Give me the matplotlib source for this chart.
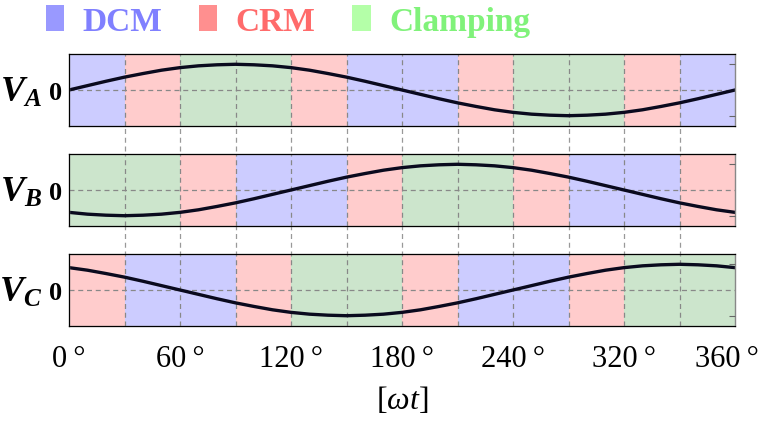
import matplotlib
matplotlib.use("Agg")
import matplotlib.pyplot as plt
import matplotlib.transforms as mtransforms
from matplotlib.patches import Patch

plt.rcParams['font.family'] = ['Liberation Serif', 'DejaVu Serif']
plt.rcParams['mathtext.fontset'] = 'custom'
plt.rcParams['mathtext.rm'] = 'Liberation Serif'
plt.rcParams['mathtext.it'] = 'Liberation Serif:italic'
plt.rcParams['mathtext.bfit'] = 'Liberation Serif:italic:bold'

# angle samples (deg) and the three phase voltages
angle = [0, 10, 20, 30, 40, 50, 60, 70, 80, 90, 100, 110, 120, 130, 140, 150, 160, 170, 180,
         190, 200, 210, 220, 230, 240, 250, 260, 270, 280, 290, 300, 310, 320, 330, 340, 350, 360]
v_a = [0.0, 0.17, 0.34, 0.5, 0.64, 0.77, 0.87, 0.94, 0.98, 1.0, 0.98, 0.94, 0.87, 0.77, 0.64, 0.5, 0.34, 0.17, 0.0,
       -0.17, -0.34, -0.5, -0.64, -0.77, -0.87, -0.94, -0.98, -1.0, -0.98, -0.94, -0.87, -0.77, -0.64, -0.5, -0.34, -0.17, 0.0]
v_b = [-0.87, -0.94, -0.98, -1.0, -0.98, -0.94, -0.87, -0.77, -0.64, -0.5, -0.34, -0.17, 0.0, 0.17, 0.34, 0.5, 0.64, 0.77, 0.87,
       0.94, 0.98, 1.0, 0.98, 0.94, 0.87, 0.77, 0.64, 0.5, 0.34, 0.17, 0.0, -0.17, -0.34, -0.5, -0.64, -0.77, -0.87]
v_c = [0.87, 0.77, 0.64, 0.5, 0.34, 0.17, 0.0, -0.17, -0.34, -0.5, -0.64, -0.77, -0.87, -0.94, -0.98, -1.0, -0.98, -0.94, -0.87,
       -0.77, -0.64, -0.5, -0.34, -0.17, 0.0, 0.17, 0.34, 0.5, 0.64, 0.77, 0.87, 0.94, 0.98, 1.0, 0.98, 0.94, 0.87]

# operating mode of each 30 deg segment
seg_edges = [0, 30, 60, 90, 120, 150, 180, 210, 240, 270, 300, 330, 360]
mode_a = ['DCM', 'CRM', 'Clamping', 'Clamping', 'CRM', 'DCM', 'DCM', 'CRM', 'Clamping', 'Clamping', 'CRM', 'DCM']
mode_b = ['Clamping', 'Clamping', 'CRM', 'DCM', 'DCM', 'CRM', 'Clamping', 'Clamping', 'CRM', 'DCM', 'DCM', 'CRM']
mode_c = ['CRM', 'DCM', 'DCM', 'CRM', 'Clamping', 'Clamping', 'CRM', 'DCM', 'DCM', 'CRM', 'Clamping', 'Clamping']

tick_pos = [0, 60, 120, 180, 240, 300, 360]
tick_lab = ['0\u2009°', '60\u2009°', '120\u2009°', '180\u2009°', '240\u2009°', '320\u2009°', '360\u2009°']

modes = ['DCM', 'CRM', 'Clamping']
span_col = {'DCM': 'b', 'CRM': 'r', 'Clamping': 'g'}
leg_patch = ['#9999ff', '#ff8f8f', '#b4ffa8']
leg_text = ['#8080ff', '#ff6b6b', '#80f27a']

phases = [(r'$\mathbfit{V}_{\mathbfit{A}}$', v_a, mode_a),
          (r'$\mathbfit{V}_{\mathbfit{B}}$', v_b, mode_b),
          (r'$\mathbfit{V}_{\mathbfit{C}}$', v_c, mode_c)]

fig = plt.figure(figsize=(7.65, 4.27), dpi=100)

left, width = 0.0902, 0.8706
bottoms = [0.7026, 0.4684, 0.2342]
height = 0.1686

# dashed guide lines running through the gaps between panels
bg = fig.add_axes([left, bottoms[2], width, bottoms[0] + height - bottoms[2]])
bg.set_xlim(0, 360)
for e in seg_edges[1:-1]:
    bg.axvline(e, color='#999999', lw=0.9, ls=(0, (4, 3)))
bg.axis('off')

for i, (name, vals, mode) in enumerate(phases):
    ax = fig.add_axes([left, bottoms[i], width, height])
    for k, m in enumerate(mode):
        ax.axvspan(seg_edges[k], seg_edges[k + 1], color=span_col[m], alpha=0.2, lw=0)
    for e in seg_edges[1:-1]:
        ax.axvline(e, color='#888888', lw=0.9, ls=(0, (4, 3)))
    ax.axhline(0, color='#888888', lw=0.9, ls=(0, (4, 3)))
    ax.plot(angle, vals, color='#0a0a1e', lw=2.4, solid_capstyle='round')
    ax.set_xlim(0, 360)
    ax.set_ylim(-1.4, 1.4)
    for s in ax.spines.values():
        s.set_color('#888888')
        s.set_linewidth(1.0)
    ax.set_yticks([0])
    ax.set_yticklabels(['0'], fontsize=19, fontweight='bold')
    ax.tick_params(axis='y', length=0, pad=5)
    ax2 = ax.twinx()
    ax2.set_ylim(-1.4, 1.4)
    ax2.set_yticks([-1, 1])
    ax2.set_yticklabels([])
    ax2.tick_params(axis='y', direction='in', length=4, color='#666666')
    ax2.spines['right'].set_visible(False)
    ax.text(-0.04, 0.47, name, transform=ax.transAxes, ha='right', va='center', fontsize=26)
    if i < 2:
        ax.set_xticks([])
    else:
        ax.set_xticks(tick_pos)
        ax.set_xticklabels(tick_lab, fontsize=22)
        ax.tick_params(axis='x', length=0, pad=13)
        ax.set_xlabel(r'$[\omega t]$', fontsize=23, labelpad=8)
        # nudge the last label so it stays inside the canvas
        last = ax.get_xticklabels()[-1]
        last.set_transform(last.get_transform() + mtransforms.ScaledTranslation(-6 / 72, 0, fig.dpi_scale_trans))

handles = [Patch(facecolor=c, edgecolor='none') for c in leg_patch]
fig.legend(handles, modes, loc='upper left', bbox_to_anchor=(0.06, 0.985), ncol=3, frameon=False,
           prop={'size': 24, 'weight': 'bold'}, labelcolor=leg_text,
           borderpad=0, borderaxespad=0,
           handlelength=0.55, handleheight=0.8, handletextpad=0.55, columnspacing=1.1)

fig.savefig('out.png', dpi=100)
